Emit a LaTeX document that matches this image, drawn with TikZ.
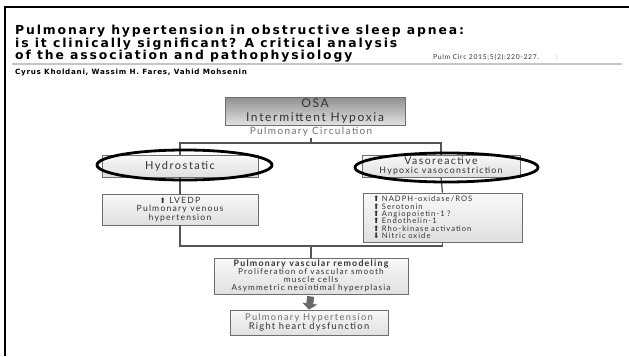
\documentclass[tikz,border=0pt]{standalone}
\usepackage{fontspec}
\setmainfont{Lato}
\newfontfamily\titlefont[LetterSpace=15]{DejaVu Sans}
\newfontfamily\authfont[LetterSpace=10]{DejaVu Sans}
\newfontfamily\df[LetterSpace=14]{Lato}
\newfontfamily\smallf[LetterSpace=10]{Lato}
\newfontfamily\symf{DejaVu Sans}
\usetikzlibrary{shapes.geometric,arrows.meta,shadows}
\definecolor{txt}{HTML}{333333}
\definecolor{txtlight}{HTML}{707070}
\definecolor{boxline}{HTML}{6E6E6E}
\definecolor{boxtop}{HTML}{F8F8F8}
\definecolor{boxbot}{HTML}{E0E0E0}
\definecolor{osatop}{HTML}{8F8F8F}
\definecolor{osabot}{HTML}{E2E2E2}
\definecolor{connc}{HTML}{555555}
\definecolor{rulec}{HTML}{C6C6C6}
\definecolor{arrc}{HTML}{6A6A6A}
\newcommand{\upa}{{\symf\char"2B06}}
\newcommand{\dna}{{\symf\char"2B07}}
\begin{document}
\begin{tikzpicture}[x=1pt,y=-1pt,
  box/.style={draw=boxline, line width=0.9pt, top color=boxtop, bottom color=boxbot,
    inner sep=0pt, align=center, text=txt,
    drop shadow={shadow xshift=1pt, shadow yshift=-1pt, opacity=.35}},
  osabox/.style={box, top color=osatop, bottom color=osabot},
  conn/.style={draw=connc, line width=1.3pt},
  ring/.style={ellipse, draw=black, line width=2.8pt, inner sep=0pt},
  blockarr/.style={draw=arrc, line width=7pt, -{Triangle[width=15pt,length=6pt]}},
  titletxt/.style={anchor=base west, inner sep=0pt, text=black,
    font=\titlefont\bfseries\fontsize{12.4}{13}\selectfont}]
\useasboundingbox (0,0) rectangle (629,356);
\fill[white] (0,0) rectangle (629,356);
% frame
\draw[line width=2.6pt] (4,7) -- (629,7);
\draw[line width=2.2pt] (5,6) -- (5,356);
% title
\node[titletxt] (t1) at (15,34) {Pulmonary hypertension in obstructive sleep apnea:};
\node[titletxt] (t2) at (15,47) {is it clinically significant? A critical analysis};
\node[titletxt] (t3) at (15,59) {of the association and pathophysiology};
\node[anchor=base west, inner sep=0pt, text=txt, font=\smallf\fontsize{6.8}{7}\selectfont]
  (cite) at (433,59) {Pulm Circ 2015;5(2):220-227.};
\node[anchor=base west, inner sep=0pt, text=rulec, font=\smallf\fontsize{6.8}{7}\selectfont]
  (bar) at (556,59) {|};
\draw[rulec, line width=1.8pt] (12,64) -- (622,64);
\node[anchor=base west, inner sep=0pt, text=black, font=\authfont\bfseries\fontsize{7.2}{8}\selectfont]
  (auth) at (15,74) {Cyrus Kholdani, Wassim H. Fares, Vahid Mohsenin};
% boxes
\node[osabox, minimum width=180pt, minimum height=28pt,
  font=\df\fontsize{12}{13.5}\selectfont] (osa) at (315,111) {OSA\\Intermittent Hypoxia};
\node[inner sep=1pt, text=txtlight, font=\df\fontsize{10}{11}\selectfont] (pc) at (311,132) {Pulmonary Circulation};
\node[box, minimum width=156pt, minimum height=22pt,
  font=\df\fontsize{11}{12}\selectfont] (hydro) at (180,166) {Hydrostatic};
\node[box, minimum width=158pt, minimum height=22pt,
  font=\df\fontsize{10.5}{9.5}\selectfont] (vaso) at (441,166)
  {Vasoreactive\\{\fontsize{8.8}{9.5}\selectfont Hypoxic vasoconstriction}};
\node[box, minimum width=156pt, minimum height=31pt,
  font=\df\fontsize{8.6}{8.6}\selectfont] (lvedp) at (180,209.5)
  {{\fontsize{7.5}{8.6}\selectfont\upa}\ LVEDP\\Pulmonary venous\\hypertension};
\node[box, minimum width=159pt, minimum height=49pt, align=left, text width=139pt,
  font=\df\fontsize{7.6}{7.4}\selectfont] (list) at (442.5,217.5)
  {\upa\ NADPH-oxidase/ROS\\\upa\ Serotonin\\\upa\ Angiopoietin-1 ?\\\upa\ Endothelin-1\\\upa\ Rho-kinase activation\\\dna\ Nitric oxide};
\node[box, minimum width=194pt, minimum height=36pt,
  font=\df\fontsize{8.2}{7.9}\selectfont] (remod) at (311,276)
  {{\bfseries\fontsize{8.8}{7.9}\selectfont Pulmonary vascular remodeling}\\Proliferation of vascular smooth\\muscle cells\\Asymmetric neointimal hyperplasia};
\node[box, minimum width=158pt, minimum height=25pt,
  font=\df\fontsize{9.3}{9.3}\selectfont] (final) at (309,322.5)
  {{\color{txtlight}Pulmonary Hypertension}\\Right heart dysfunction};
% connectors
\coordinate (bt) at (311,143);
\coordinate (bb) at (311,246);
\draw[conn] (pc.south) -- (bt);
\draw[conn] (hydro.north) |- (bt) -| (vaso.north);
\draw[conn] (hydro.south) -- (lvedp.north);
\draw[conn] (vaso.south) -- (list.north);
\draw[conn] (lvedp.south) |- (bb) -| (list.south);
\draw[conn] (bb) -- (remod.north);
\draw[blockarr, shorten <=2pt] (remod.south) -- (final.north);
% highlight rings
\node[ring, minimum width=175pt, minimum height=30pt] (hring) at (184.5,165) {};
\node[ring, minimum width=183pt, minimum height=29pt] (vring) at (446.5,167.5) {};
\end{tikzpicture}
\end{document}
